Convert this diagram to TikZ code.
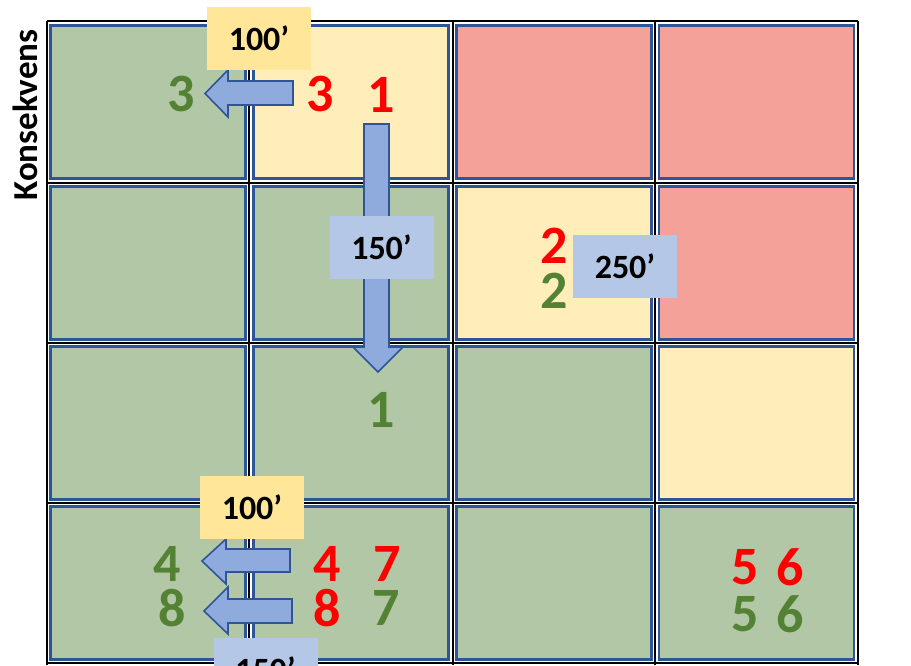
\documentclass[tikz,border=0pt]{standalone}
\usepackage{fontspec}
\setmainfont{Carlito}
\usetikzlibrary{positioning}
\definecolor{cellGreen}{HTML}{B2C7A5}
\definecolor{cellYellow}{HTML}{FFEDBA}
\definecolor{cellRed}{HTML}{F4A19A}
\definecolor{cellEdge}{HTML}{2F5597}
\definecolor{arrowFill}{HTML}{8FAADC}
\definecolor{tagBlue}{HTML}{B4C7E7}
\definecolor{tagYellow}{HTML}{FFE699}
\definecolor{numRed}{HTML}{FF0000}
\definecolor{numGreen}{HTML}{548235}

\begin{document}
\begin{tikzpicture}[x=1pt,y=-1pt,
  cell/.style={draw=cellEdge,line width=2.2pt,minimum width=195pt,minimum height=153pt,inner sep=0pt},
  tag/.style={minimum width=104pt,minimum height=63pt,inner sep=0pt,font=\fontsize{34}{36}\selectfont\bfseries},
  num/.style={font=\fontsize{54}{56}\selectfont\bfseries,inner sep=0pt},
  blockarrow/.style={fill=arrowFill,draw=cellEdge,line width=1.6pt,line join=miter}]
\fill[white] (0,0) rectangle (911,665);
\useasboundingbox (0,0) rectangle (911,665);
% risk matrix cells
\foreach \cx/\cy/\cc/\nm in {148/102/cellGreen/c11, 351/102/cellYellow/c12, 554/102/cellRed/c13, 756.5/102/cellRed/c14,
    148/263/cellGreen/c21, 351/263/cellGreen/c22, 554/263/cellYellow/c23, 756.5/263/cellRed/c24,
    148/423/cellGreen/c31, 351/423/cellGreen/c32, 554/423/cellGreen/c33, 756.5/423/cellYellow/c34,
    148/583/cellGreen/c41, 351/583/cellGreen/c42, 554/583/cellGreen/c43, 756.5/583/cellGreen/c44}
  \node[cell,fill=\cc] (\nm) at (\cx,\cy) {};
% table lines
\foreach \x in {47,249,453,655,858}
  \draw[line width=2pt] (\x,21) -- (\x,665);
\foreach \y in {21,183,343,503,663}
  \draw[line width=2pt] (47,\y) -- (858,\y);
\node[rotate=90,font=\fontsize{35}{36}\selectfont\bfseries,inner sep=0pt] (axis) at (25,115) {Konsekvens};
% block arrows
\draw[blockarrow] (293,81) -- (228,81) -- (228,70) -- (205,93.5) -- (228,117) -- (228,105) -- (293,105) -- cycle;
\draw[blockarrow] (364,124) -- (364,347) -- (353,347) -- (378,372) -- (403,347) -- (389,347) -- (389,124) -- cycle;
\draw[blockarrow] (290,549) -- (226,549) -- (226,539) -- (202,561) -- (226,584) -- (226,572) -- (290,572) -- cycle;
\draw[blockarrow] (292,599) -- (228,599) -- (228,587) -- (204,611) -- (228,634) -- (228,623) -- (292,623) -- cycle;
% distance tags
\node[tag,fill=tagYellow] (d1) at (259,38) {100’};
\node[tag,fill=tagBlue] (d2) at (381.5,247.5) {150’};
\node[tag,fill=tagBlue] (d3) at (625,266.5) {250’};
\node[tag,fill=tagYellow] (d4) at (252,507) {100’};
\node[tag,fill=tagBlue] (d5) at (265.5,669.5) {150’};
% scenario numbers
\node[num,numGreen] (g3) at (181,94) {3};
\node[num,numRed] (r3) at (320,94) {3};
\node[num,numRed] (r1) at (381,95) {1};
\node[num,numGreen] (g1) at (381,410) {1};
\node[num,numRed] (r2) at (554,246) {2};
\node[num,numGreen] (g2) at (554,291) {2};
\node[num,numGreen] (g4) at (167,564) {4};
\node[num,numGreen] (g8) at (172,608) {8};
\node[num,numRed] (r4) at (327,564) {4};
\node[num,numRed] (r7) at (387,564) {7};
\node[num,numRed] (r8) at (327,608) {8};
\node[num,numGreen] (g7) at (386,608) {7};
\node[num,numRed] (r5) at (745,567) {5};
\node[num,numRed] (r6) at (790,567) {6};
\node[num,numGreen] (g5) at (745,614) {5};
\node[num,numGreen] (g6) at (790,614) {6};
\end{tikzpicture}
\end{document}
